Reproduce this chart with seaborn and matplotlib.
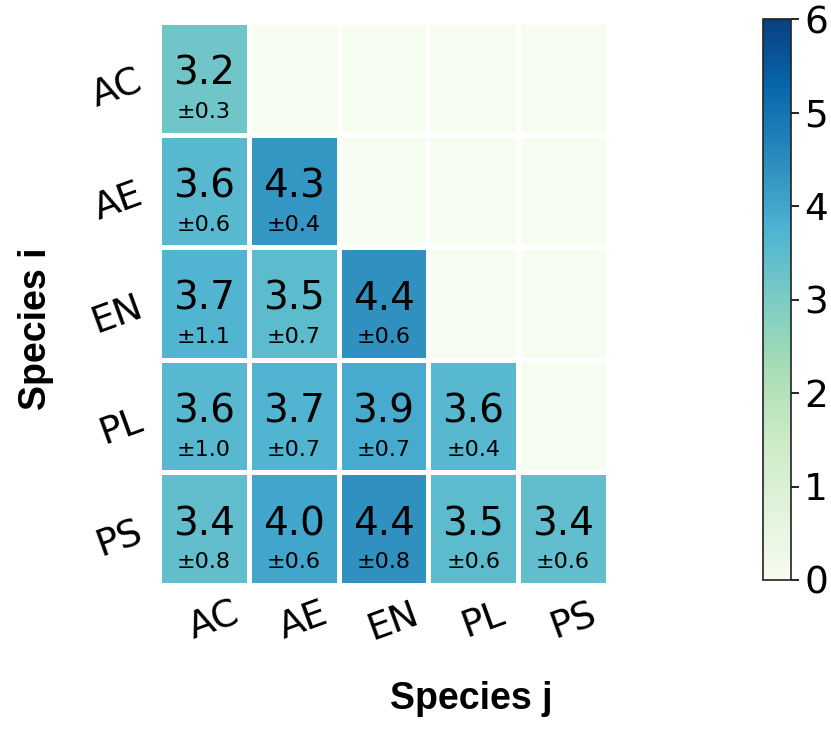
import numpy as np
import pandas as pd
import matplotlib
matplotlib.use("Agg")
import matplotlib.pyplot as plt
import matplotlib.transforms as mtransforms
import seaborn as sns

species = ["AC", "AE", "EN", "PL", "PS"]

# Lower-triangular interaction strengths (row i, column j)
mean_AC = [3.2]
mean_AE = [3.6, 4.3]
mean_EN = [3.7, 3.5, 4.4]
mean_PL = [3.6, 3.7, 3.9, 3.6]
mean_PS = [3.4, 4.0, 4.4, 3.5, 3.4]

std_AC = [0.3]
std_AE = [0.6, 0.4]
std_EN = [1.1, 0.7, 0.6]
std_PL = [1.0, 0.7, 0.7, 0.4]
std_PS = [0.8, 0.6, 0.8, 0.6, 0.6]

cbar_ticks = [0, 1, 2, 3, 4, 5, 6]

mean_rows = [mean_AC, mean_AE, mean_EN, mean_PL, mean_PS]
std_rows = [std_AC, std_AE, std_EN, std_PL, std_PS]

plt.rcParams["font.family"] = ["DejaVu Sans"]

n = len(species)
mean = np.zeros((n, n))
std = np.full((n, n), np.nan)
for i in range(n):
    for j, v in enumerate(mean_rows[i]):
        mean[i, j] = v
        std[i, j] = std_rows[i][j]

df = pd.DataFrame(mean, index=species, columns=species)

fig = plt.figure(figsize=(8.31, 7.30), dpi=100)
ax = fig.add_axes([159 / 831, 1 - 585 / 730, 449 / 831, 563 / 730])
cax = fig.add_axes([763 / 831, 1 - 580 / 730, 28 / 831, 561 / 730])

sns.heatmap(df, ax=ax, cbar_ax=cax, cmap="GnBu", vmin=0, vmax=6,
            linewidths=2.5, linecolor="white", annot=False,
            cbar_kws={"ticks": cbar_ticks})

for i in range(n):
    for j in range(len(mean_rows[i])):
        ax.text(j + 0.5, i + 0.46, f"{mean[i, j]:.1f}", ha="center", va="center",
                fontsize=28, color="black")
        ax.text(j + 0.5, i + 0.80, f"\u00b1{std[i, j]:.1f}", ha="center", va="center",
                fontsize=16, color="black")

ax.tick_params(axis="both", length=0, labelsize=27, pad=8)
ax.set_xticklabels(species, rotation=20)
ax.set_yticklabels(species, rotation=20, va="center")

# nudge rotated tick labels
dx = mtransforms.ScaledTranslation(10 / 100, 0, fig.dpi_scale_trans)
dy = mtransforms.ScaledTranslation(0, -11 / 100, fig.dpi_scale_trans)
for lab in ax.get_xticklabels():
    lab.set_transform(lab.get_transform() + dx)
for lab in ax.get_yticklabels():
    lab.set_transform(lab.get_transform() + dy)

ax.set_xlabel("Species j", fontsize=27, fontweight="bold", family="Liberation Sans")
ax.set_ylabel("Species i", fontsize=27, fontweight="bold", family="Liberation Sans")
ax.xaxis.set_label_coords(0.695, -0.17)
ax.yaxis.set_label_coords(-0.234, 0.455)

cax.tick_params(labelsize=27, length=6, width=1.2)
cbar = ax.collections[0].colorbar
cbar.outline.set_visible(True)
cbar.outline.set_edgecolor("#222222")
cbar.outline.set_linewidth(1.2)

fig.savefig("out.png", dpi=100)
